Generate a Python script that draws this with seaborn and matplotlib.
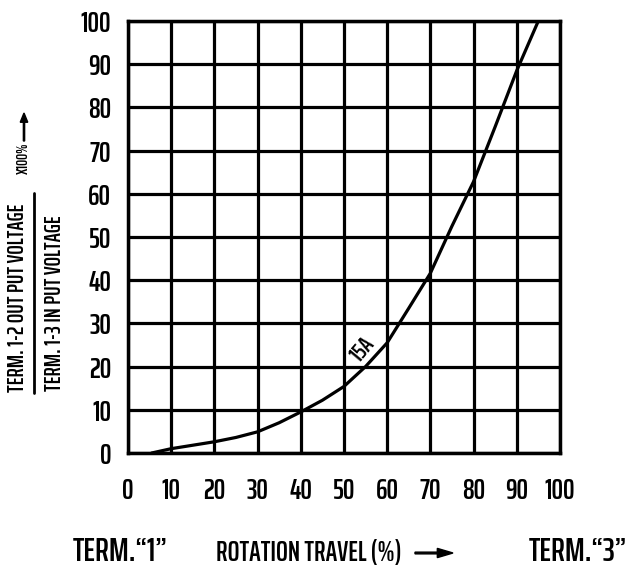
import numpy as np
import pandas as pd
import matplotlib
matplotlib.use("Agg")
import matplotlib.pyplot as plt
import seaborn as sns

# Taper curve 15A
travel = [5.5, 10, 15, 20, 25, 30, 35, 40, 45, 50, 55, 60, 65, 70, 75, 80, 85, 90, 95]
ratio = [0, 1.0, 1.8, 2.6, 3.6, 4.9, 7.0, 9.5, 12.2, 15.4, 20.0, 25.5, 33.5, 41.6, 52.5, 62.8, 75.5, 88.5, 100]
ticks = [0, 10, 20, 30, 40, 50, 60, 70, 80, 90, 100]
curve_label = "15A"

df = pd.DataFrame({"travel": travel, "ratio": ratio})

sns.set_theme(style="white")
plt.rcParams['font.family'] = ['Saira ExtraCondensed', 'DejaVu Sans']
plt.rcParams['font.weight'] = 600

fig = plt.figure(figsize=(6.27, 5.79), dpi=100)
ax = fig.add_axes([0.204, 0.2176, 0.689, 0.7461])

sns.lineplot(data=df, x="travel", y="ratio", color="black", linewidth=2.3, ax=ax)

ax.set_xlim(0, 100)
ax.set_ylim(0, 100)
ax.set_xticks(ticks)
ax.set_yticks(ticks)
ax.set_xticklabels(ticks, fontsize=21, color="black")
ax.set_yticklabels(ticks, fontsize=21, color="black")
ax.tick_params(axis='x', length=0, pad=17)
ax.tick_params(axis='y', length=0, pad=12)
ax.grid(True, color="black", linewidth=2.3)
for s in ax.spines.values():
    s.set_color("black")
    s.set_linewidth(2.5)
ax.set_xlabel("")
ax.set_ylabel("")

ax.text(54.5, 24, curve_label, rotation=50, fontsize=17, ha="center", va="center",
        color="black")

# y-axis label as a fraction
fig.text(18 / 627, 1 - 298 / 579, "TERM. 1-2 OUT PUT VOLTAGE", rotation=90,
         fontsize=16, ha="center", va="center", color="black")
fig.text(55 / 627, 1 - 303 / 579, "TERM. 1-3 IN PUT VOLTAGE", rotation=90,
         fontsize=16, ha="center", va="center", color="black")
fig.add_artist(plt.Line2D([34 / 627, 34 / 627], [1 - 393 / 579, 1 - 193 / 579],
                          color="black", linewidth=2))
fig.text(24 / 627, 1 - 158 / 579, "X100%", rotation=90, fontsize=11,
         ha="center", va="center", color="black")
fig.add_artist(matplotlib.patches.FancyArrow(24 / 627, 1 - 141 / 579, 0, 28 / 579,
                                             width=0.002, head_width=0.012,
                                             head_length=0.016, color="black",
                                             length_includes_head=True))

# bottom labels
fig.text(120 / 627, 1 - 552 / 579, "TERM.\u201c1\u201d", fontsize=24,
         ha="center", va="center", color="black")
fig.text(309 / 627, 1 - 553 / 579, "ROTATION TRAVEL (%)", fontsize=20,
         ha="center", va="center", color="black")
fig.add_artist(matplotlib.patches.FancyArrow(415 / 627, 1 - 553 / 579, 38 / 627, 0,
                                             width=0.003, head_width=0.016,
                                             head_length=0.025, color="black",
                                             length_includes_head=True))
fig.text(578 / 627, 1 - 552 / 579, "TERM.\u201c3\u201d", fontsize=24,
         ha="center", va="center", color="black")

fig.savefig("out.png", dpi=100, facecolor="white")
